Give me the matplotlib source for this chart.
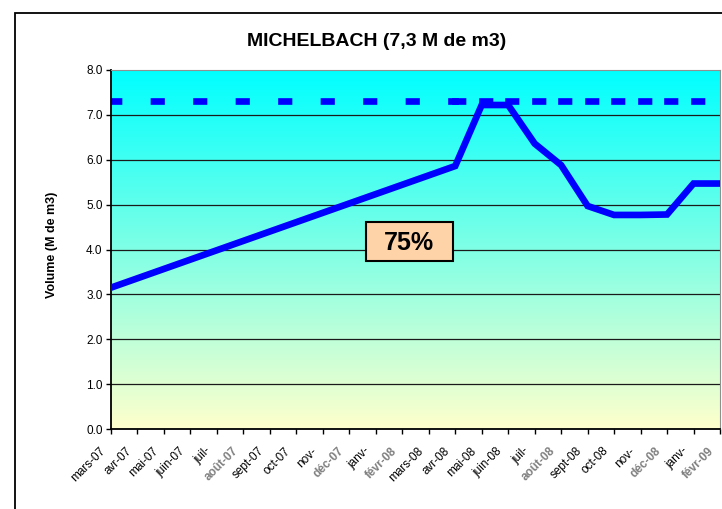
import numpy as np
import matplotlib
matplotlib.use("Agg")
import matplotlib.pyplot as plt
import matplotlib.transforms as mtransforms
from matplotlib.colors import LinearSegmentedColormap
from matplotlib.patches import Rectangle

months = ["mars-07", "avr-07", "mai-07", "juin-07", "juil-", "août-07", "sept-07", "oct-07",
          "nov-", "déc-07", "janv-", "févr-08", "mars-08", "avr-08", "mai-08", "juin-08",
          "juil-", "août-08", "sept-08", "oct-08", "nov-", "déc-08", "janv-", "févr-09"]
# volumes, None = no measure
volume = [3.15, None, None, None, None, None, None, None, None, None, None, None, None,
          5.86, 7.22, 7.22, 6.36, 5.88, 4.97, 4.77, 4.77, 4.78, 5.47, 5.47]
gray_labels = ["août-07", "déc-07", "févr-08", "août-08", "déc-08", "févr-09"]
capacity = 7.3
fill_pct = "75%"

plt.rcParams['font.family'] = ['Liberation Sans', 'DejaVu Sans']
plt.rcParams['lines.scale_dashes'] = False

fig = plt.figure(figsize=(7.22, 5.09), dpi=100)
# outer chart frame
fig.patches.append(Rectangle((15/722, -0.1), 1.2, 1 - 12.5/509 + 0.1, transform=fig.transFigure,
                             fill=False, edgecolor='black', linewidth=1.3))

ax = fig.add_axes([111/722, 1 - 429/509, 609/722, 359/509])
n = len(months)
ax.set_xlim(0, n - 1)
ax.set_ylim(0, 8)

# cyan -> light yellow gradient background
cmap = LinearSegmentedColormap.from_list("bg", ["#FFFFCC", "#00FFFF"])
grad = np.linspace(0, 1, 256).reshape(-1, 1)
ax.imshow(grad, cmap=cmap, origin='lower', aspect='auto', extent=[0, n - 1, 0, 8], zorder=0)

for y in range(1, 8):
    ax.axhline(y, color='#1a1a1a', linewidth=0.9, zorder=1)

xs = [i for i, v in enumerate(volume) if v is not None]
ys = [v for v in volume if v is not None]

# capacity line, dash pattern restarts at every measured month (like excel does)
for a, b in zip(xs[:-1], xs[1:]):
    ax.plot([a, b], [capacity, capacity], color='#0000FF', linewidth=4.8,
            linestyle=(0, (5.4, 25.2)), dash_capstyle='projecting', zorder=2)

ax.plot(xs, ys, color='#0000FF', linewidth=4.8, solid_joinstyle='miter', zorder=3)

ax.tick_params(axis='both', direction='out', length=3.5, width=1)
ax.tick_params(axis='x', pad=8)
ax.tick_params(axis='y', pad=2.5)

ax.set_yticks(range(0, 9))
ax.set_yticklabels(["%.1f" % v for v in range(0, 9)], fontsize=8.5)
ax.set_xticks(range(n))
ax.set_xticklabels(months, rotation=45, ha='right', rotation_mode='anchor', fontsize=8.5)
# move labels a bit left of their tick (after tick_params, which resets transforms)
shift = mtransforms.ScaledTranslation(-8.5/72, 0, fig.dpi_scale_trans)
for lab in ax.xaxis.get_majorticklabels():
    lab.set_transform(lab.get_transform() + shift)
    if lab.get_text() in gray_labels:
        lab.set_color('#7f7f7f')
        lab.set_fontweight('bold')
ax.set_ylabel("Volume (M de m3)", fontsize=9, fontweight='bold')
ax.yaxis.set_label_coords(-0.087, 0.5125)

ax.spines['left'].set_linewidth(1.3)
ax.spines['bottom'].set_linewidth(1.3)
ax.spines['top'].set_color('#909090')
ax.spines['right'].set_color('#909090')

fig.text(376.5/722, 1 - 41/509, "MICHELBACH (7,3 M de m3)", fontsize=14, fontweight='bold',
         ha='center', va='center')

# percentage box
bx, by = 11.27, 4.18
bw, bh = 3.29, 0.87
ax.add_patch(Rectangle((bx - bw/2, by - bh/2), bw, bh, facecolor='#FFD3A8', edgecolor='black',
                       linewidth=1.5, zorder=4))
ax.text(bx, 3.99, fill_pct, fontsize=18, fontweight='bold', ha='center', va='baseline', zorder=5)

fig.savefig("out.png", dpi=100)
